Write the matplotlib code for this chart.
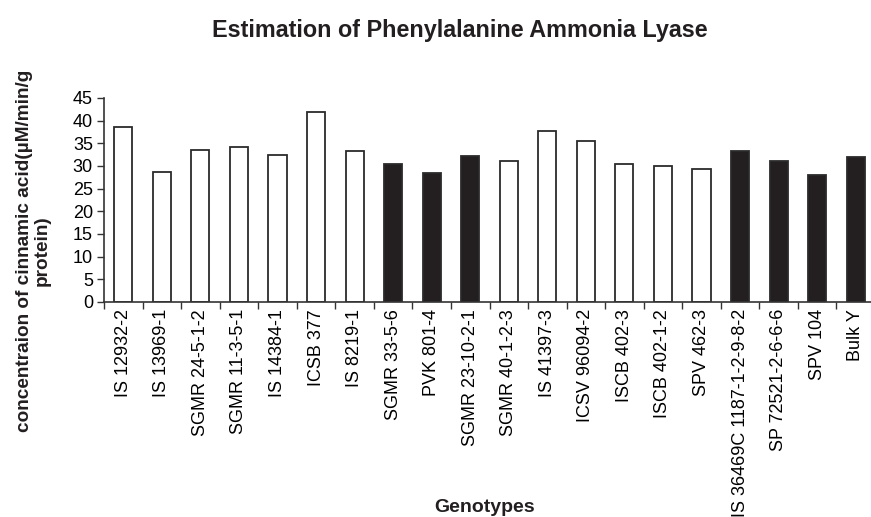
import matplotlib
matplotlib.use("Agg")
import matplotlib.pyplot as plt
import numpy as np

genotypes = ["IS 12932-2", "IS 13969-1", "SGMR 24-5-1-2", "SGMR 11-3-5-1",
             "IS 14384-1", "ICSB 377", "IS 8219-1", "SGMR 33-5-6", "PVK 801-4",
             "SGMR 23-10-2-1", "SGMR 40-1-2-3", "IS 41397-3", "ICSV 96094-2",
             "ISCB 402-3", "ISCB 402-1-2", "SPV 462-3", "IS 36469C 1187-1-2-9-8-2",
             "SP 72521-2-6-6-6", "SPV 104", "Bulk Y"]
pal = [38.7, 28.7, 33.5, 34.3, 32.5, 41.9, 33.2, 30.4, 28.4, 32.2,
       31.1, 37.7, 35.6, 30.4, 30.0, 29.3, 33.2, 31.2, 28.0, 31.9]
filled = [0, 0, 0, 0, 0, 0, 0, 1, 1, 1, 0, 0, 0, 0, 0, 0, 1, 1, 1, 1]

plt.rcParams['font.family'] = ['Liberation Sans', 'DejaVu Sans']

fig = plt.figure(figsize=(8.71, 5.17), dpi=100)
ax = fig.add_axes([104/871, 1-302/517, 771/871, 204/517])

x = np.arange(len(genotypes))
colors = ["#231f20" if f else "white" for f in filled]
ax.bar(x, pal, width=0.47, color=colors, edgecolor="#2b2b2b", linewidth=1.3, zorder=2)

ax.set_xlim(-0.5, len(genotypes) - 0.5)
ax.set_ylim(0, 45)
ax.set_yticks(range(0, 46, 5))
ax.set_xticks(x)
ax.set_xticklabels(genotypes, rotation=90, fontsize=13)
ax.set_xticks(np.arange(-0.5, len(genotypes), 1), minor=True)
ax.tick_params(axis='x', which='major', length=0, pad=5)
ax.tick_params(axis='x', which='minor', length=5, width=1, direction='out', color="#333333")
ax.tick_params(axis='y', length=5, width=1, direction='out', labelsize=13, color="#333333", pad=3)

for s in ["top", "right"]:
    ax.spines[s].set_visible(False)
for s in ["left", "bottom"]:
    ax.spines[s].set_linewidth(1.2)
    ax.spines[s].set_color("#333333")

fig.text(460/871, 1-31/517, "Estimation of Phenylalanine Ammonia Lyase",
         ha="center", va="center", fontsize=16.8, fontweight="bold", color="#231f20")
fig.text(33/871, 1-251/517, "concentraion of cinnamic acid(\u00b5M/min/g\nprotein)",
         ha="center", va="center", rotation=90, fontsize=13.7, fontweight="bold",
         multialignment="center", linespacing=1.05, color="#231f20")
fig.text(485/871, 1-508/517, "Genotypes", ha="center", va="center",
         fontsize=14, fontweight="bold", color="#231f20")

fig.savefig("out.png", dpi=100)
